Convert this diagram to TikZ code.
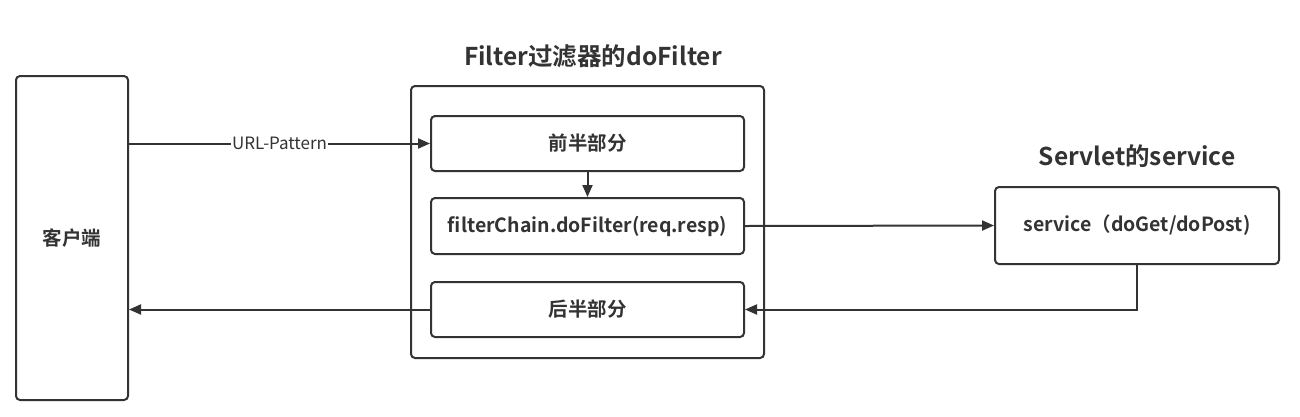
\documentclass[tikz,border=0pt]{standalone}
\usepackage{fontspec}
\setmainfont{Noto Sans CJK SC}[BoldFont={Noto Sans CJK SC Bold}]
\usetikzlibrary{arrows.meta, positioning}
\definecolor{linegray}{HTML}{333333}

\begin{document}
\begin{tikzpicture}[x=1pt, y=-1pt,
	box/.style={draw=linegray, line width=2pt, rounded corners=4pt, inner sep=0pt,
		font=\bfseries\fontsize{19.5}{22}\selectfont, text=linegray},
	title/.style={font=\bfseries\fontsize{24.5}{28}\selectfont, text=linegray},
	arr/.style={draw=linegray, line width=2pt, -{Triangle[length=12pt, width=10pt]}}]
\useasboundingbox (0,0) rectangle (1300,416);

\node[box, minimum width=112pt, minimum height=324pt] (client) at (72,238) {客户端};

\node[box, minimum width=353pt, minimum height=272pt] (filter) at (587.5,222) {};
\node[title] (filtertitle) at (593,56) {Filter过滤器的doFilter};
\node[box, minimum width=313pt, minimum height=55pt] (front) at (587.5,143.5) {前半部分};
\node[box, minimum width=313pt, minimum height=56pt] (chain) at (587.5,226) {filterChain.doFilter(req.resp)};
\node[box, minimum width=313pt, minimum height=55pt] (back) at (587.5,309.5) {后半部分};

\node[box, minimum width=284pt, minimum height=77pt] (servlet) at (1137,225.5) {service（doGet/doPost)};
\node[title] (servlettitle) at (1137,156) {Servlet的service};

% request through the filter
\draw[arr] (client.east |- front.west) -- node[fill=white, inner sep=1pt, text=linegray,
	font=\fontsize{17}{20}\selectfont] {URL-Pattern} (front.west);
\draw[arr] (front.south) -- (chain.north);
\draw[arr] (chain.east) -- (servlet.west);

% response back to the client
\draw[arr] (servlet.south) -- (servlet.south |- back.east) -- (back.east);
\draw[arr] (back.west) -- (client.east |- back.west);
\end{tikzpicture}
\end{document}
